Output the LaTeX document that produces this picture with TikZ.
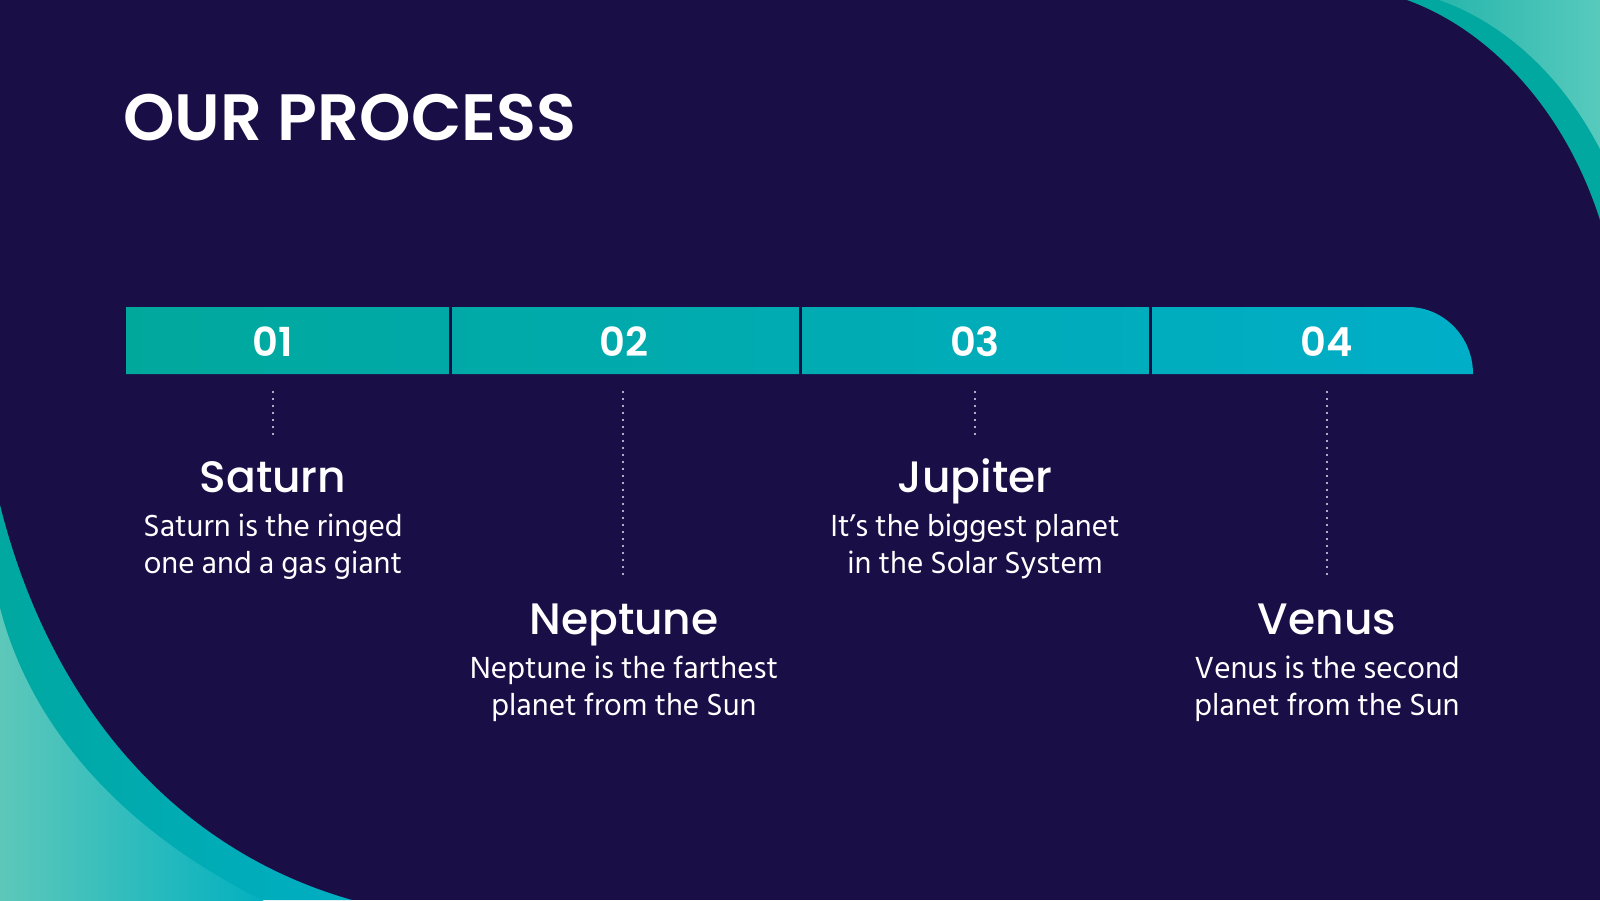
\documentclass[tikz,border=0pt]{standalone}
\usepackage{fontspec}
\newfontfamily\popsemi{Poppins SemiBold}
\newfontfamily\popmed{Poppins Medium}
\newfontfamily\hind{Hind Siliguri}
\definecolor{navy}{RGB}{26,14,70}
\definecolor{barL}{RGB}{0,168,156}
\definecolor{barR}{RGB}{0,174,200}
\definecolor{bandA}{RGB}{0,168,160}
\definecolor{bandB}{RGB}{0,174,196}
\definecolor{lightA}{RGB}{93,200,186}
\definecolor{lightB}{RGB}{0,176,192}
\definecolor{lightC}{RGB}{40,182,172}
\definecolor{lightD}{RGB}{95,205,192}
\definecolor{dotcol}{RGB}{230,228,245}
\tikzset{
  numtext/.style={text=white, inner sep=0pt, font=\popsemi\fontsize{40}{40}\selectfont},
  headtext/.style={text=white, inner sep=0pt, anchor=base, font=\popmed\fontsize{44}{44}\selectfont},
  bodytext/.style={text=white, inner sep=0pt, anchor=base, align=center, font=\hind\fontsize{31.3}{36.5}\selectfont},
  dotline/.style={draw=dotcol, line width=2.3pt, line cap=round, dash pattern=on 0pt off 7pt},
}
\begin{document}
\begin{tikzpicture}[x=1pt,y=-1pt]
\useasboundingbox (0,0) rectangle (1600,900);
\clip (0,0) rectangle (1600,900);
\fill[navy] (0,0) rectangle (1600,900);
% top-right decoration
\fill[bandA] (1407,0) .. controls (1490,30) and (1565,110) .. (1600,220) -- (1600,0) -- cycle;
\shade[left color=lightC, right color=lightD] (1439,0) .. controls (1520,28) and (1592,105) .. (1625,210) -- (1625,0) -- cycle;
% bottom-left decoration
\shade[left color=bandA, right color=bandB] (0,505) .. controls (50,705) and (175,850) .. (352,900) -- (0,900) -- cycle;
\shade[left color=lightA, right color=lightB] (0,608) .. controls (30,725) and (120,832) .. (272,905) -- (0,905) -- cycle;
% title
\node[text=white, inner sep=0pt, anchor=base west, font=\popsemi\fontsize{65.5}{66}\selectfont] (title) at (123,140) {OUR PROCESS};
% bar
\shade[left color=barL, right color=barR] (126,307) -- (1408,307) .. controls (1444,307) and (1473,337) .. (1473,374) -- (126,374) -- cycle;
\fill[navy] (449,300) rectangle (452,380);
\fill[navy] (799,300) rectangle (802,380);
\fill[navy] (1149,300) rectangle (1152,380);
\node[numtext] (n1) at (273,341.5) {01};
\node[numtext] (n2) at (624,341.5) {02};
\node[numtext] (n3) at (975,341.5) {03};
\node[numtext] (n4) at (1327,341.5) {04};
% headings and texts
\node[headtext] (h1) at (273,492) {Saturn};
\node[bodytext] (d1) at (273,573) {Saturn is the ringed\\one and a gas giant};
\node[headtext] (h2) at (624,634) {Neptune};
\node[bodytext] (d2) at (624,715) {Neptune is the farthest\\planet from the Sun};
\node[headtext] (h3) at (975,492) {Jupiter};
\node[bodytext] (d3) at (975,573) {It’s the biggest planet\\in the Solar System};
\node[headtext] (h4) at (1327,634) {Venus};
\node[bodytext] (d4) at (1327,715) {Venus is the second\\planet from the Sun};
% dotted connectors
\coordinate (t1) at (273,392);
\coordinate (b1) at (273,439);
\coordinate (t2) at (623,392);
\coordinate (b2) at (623,580);
\coordinate (t3) at (975,392);
\coordinate (b3) at (975,439);
\coordinate (t4) at (1327,392);
\coordinate (b4) at (1327,580);
\draw[dotline] (t1) -- (b1);
\draw[dotline] (t2) -- (b2);
\draw[dotline] (t3) -- (b3);
\draw[dotline] (t4) -- (b4);
\end{tikzpicture}
\end{document}
